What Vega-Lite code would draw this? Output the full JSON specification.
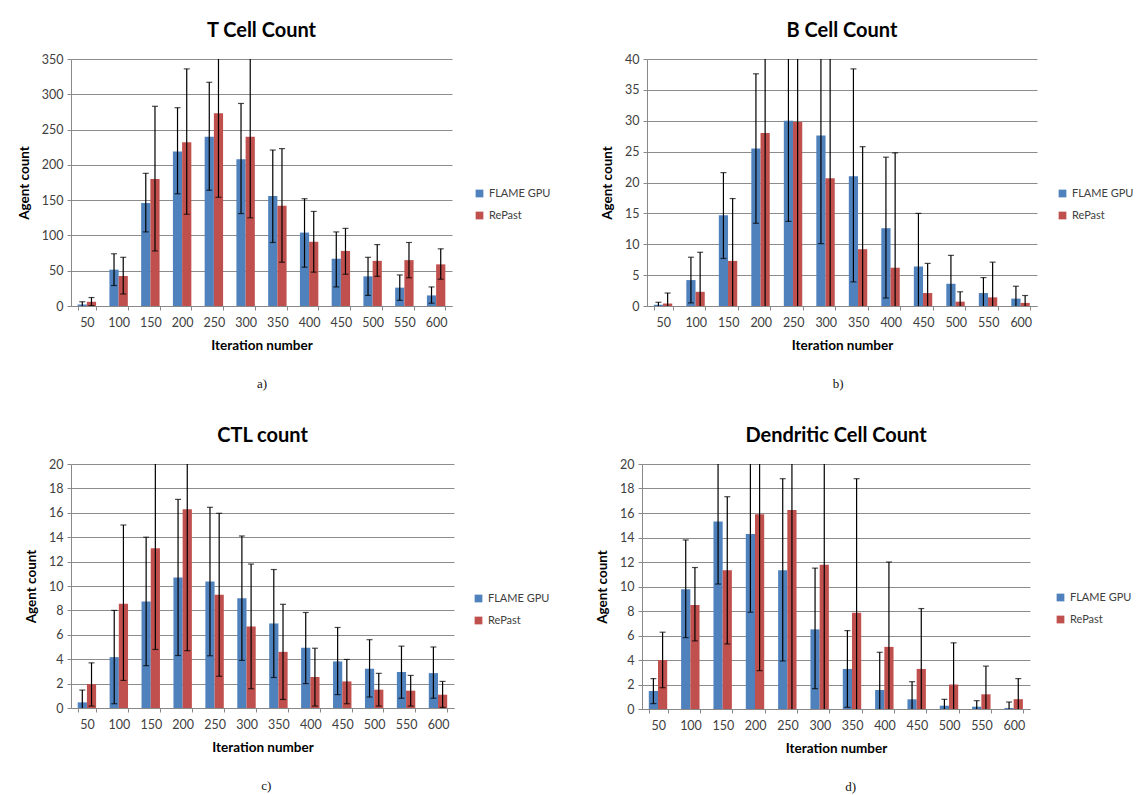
{
  "$schema": "https://vega.github.io/schema/vega-lite/v6.json",
  "background": "white",
  "padding": {"left": 17, "top": 21, "right": 5, "bottom": 0},
  "spacing": 35,
  "datasets": {
    "tcell": [
      {"iter": 50, "series": "FLAME GPU", "value": 2, "lo": -2, "hi": 6},
      {"iter": 50, "series": "RePast", "value": 6, "lo": 0.5, "hi": 12},
      {"iter": 100, "series": "FLAME GPU", "value": 51.5, "lo": 29, "hi": 74},
      {"iter": 100, "series": "RePast", "value": 42.5, "lo": 17, "hi": 69},
      {"iter": 150, "series": "FLAME GPU", "value": 146, "lo": 105, "hi": 188},
      {"iter": 150, "series": "RePast", "value": 180, "lo": 78, "hi": 283},
      {"iter": 200, "series": "FLAME GPU", "value": 219, "lo": 159, "hi": 281},
      {"iter": 200, "series": "RePast", "value": 232, "lo": 130, "hi": 336},
      {"iter": 250, "series": "FLAME GPU", "value": 240, "lo": 164, "hi": 317},
      {"iter": 250, "series": "RePast", "value": 273, "lo": 154, "hi": 392},
      {"iter": 300, "series": "FLAME GPU", "value": 208, "lo": 131, "hi": 287},
      {"iter": 300, "series": "RePast", "value": 240, "lo": 125, "hi": 355},
      {"iter": 350, "series": "FLAME GPU", "value": 156, "lo": 90, "hi": 221},
      {"iter": 350, "series": "RePast", "value": 142, "lo": 62, "hi": 223},
      {"iter": 400, "series": "FLAME GPU", "value": 104, "lo": 55, "hi": 152},
      {"iter": 400, "series": "RePast", "value": 91, "lo": 48, "hi": 134},
      {"iter": 450, "series": "FLAME GPU", "value": 67, "lo": 27, "hi": 105},
      {"iter": 450, "series": "RePast", "value": 78, "lo": 45, "hi": 110},
      {"iter": 500, "series": "FLAME GPU", "value": 42, "lo": 15, "hi": 69},
      {"iter": 500, "series": "RePast", "value": 64, "lo": 42, "hi": 87},
      {"iter": 550, "series": "FLAME GPU", "value": 26, "lo": 8, "hi": 44},
      {"iter": 550, "series": "RePast", "value": 65, "lo": 40, "hi": 90},
      {"iter": 600, "series": "FLAME GPU", "value": 15, "lo": 4, "hi": 27},
      {"iter": 600, "series": "RePast", "value": 59, "lo": 38, "hi": 81}
    ],
    "bcell": [
      {"iter": 50, "series": "FLAME GPU", "value": 0.2, "lo": -0.2, "hi": 0.6},
      {"iter": 50, "series": "RePast", "value": 0.4, "lo": -1.3, "hi": 2.1},
      {"iter": 100, "series": "FLAME GPU", "value": 4.2, "lo": 0.5, "hi": 7.9},
      {"iter": 100, "series": "RePast", "value": 2.3, "lo": -4.2, "hi": 8.7},
      {"iter": 150, "series": "FLAME GPU", "value": 14.7, "lo": 7.7, "hi": 21.6},
      {"iter": 150, "series": "RePast", "value": 7.3, "lo": -2.8, "hi": 17.4},
      {"iter": 200, "series": "FLAME GPU", "value": 25.5, "lo": 13.4, "hi": 37.6},
      {"iter": 200, "series": "RePast", "value": 28, "lo": -2, "hi": 58},
      {"iter": 250, "series": "FLAME GPU", "value": 30, "lo": 13.7, "hi": 46.3},
      {"iter": 250, "series": "RePast", "value": 29.8, "lo": -1, "hi": 60},
      {"iter": 300, "series": "FLAME GPU", "value": 27.6, "lo": 10.1, "hi": 45.1},
      {"iter": 300, "series": "RePast", "value": 20.7, "lo": -1, "hi": 42},
      {"iter": 350, "series": "FLAME GPU", "value": 21, "lo": 3.9, "hi": 38.4},
      {"iter": 350, "series": "RePast", "value": 9.2, "lo": -7.4, "hi": 25.8},
      {"iter": 400, "series": "FLAME GPU", "value": 12.6, "lo": 1.3, "hi": 24.1},
      {"iter": 400, "series": "RePast", "value": 6.2, "lo": -12.4, "hi": 24.8},
      {"iter": 450, "series": "FLAME GPU", "value": 6.4, "lo": -2.2, "hi": 15},
      {"iter": 450, "series": "RePast", "value": 2.1, "lo": -2.7, "hi": 6.9},
      {"iter": 500, "series": "FLAME GPU", "value": 3.6, "lo": -1, "hi": 8.2},
      {"iter": 500, "series": "RePast", "value": 0.7, "lo": -0.9, "hi": 2.3},
      {"iter": 550, "series": "FLAME GPU", "value": 2.1, "lo": -0.4, "hi": 4.6},
      {"iter": 550, "series": "RePast", "value": 1.4, "lo": -4.3, "hi": 7.1},
      {"iter": 600, "series": "FLAME GPU", "value": 1.2, "lo": -0.8, "hi": 3.2},
      {"iter": 600, "series": "RePast", "value": 0.5, "lo": -0.7, "hi": 1.7}
    ],
    "ctl": [
      {"iter": 50, "series": "FLAME GPU", "value": 0.46, "lo": -0.5, "hi": 1.47},
      {"iter": 50, "series": "RePast", "value": 1.96, "lo": 0.16, "hi": 3.7},
      {"iter": 100, "series": "FLAME GPU", "value": 4.17, "lo": 0.35, "hi": 8.0},
      {"iter": 100, "series": "RePast", "value": 8.54, "lo": 2.26, "hi": 15},
      {"iter": 150, "series": "FLAME GPU", "value": 8.73, "lo": 3.47, "hi": 14.0},
      {"iter": 150, "series": "RePast", "value": 13.1, "lo": 4.8, "hi": 21.4},
      {"iter": 200, "series": "FLAME GPU", "value": 10.7, "lo": 4.3, "hi": 17.1},
      {"iter": 200, "series": "RePast", "value": 16.3, "lo": 4.7, "hi": 27.9},
      {"iter": 250, "series": "FLAME GPU", "value": 10.37, "lo": 4.28, "hi": 16.45},
      {"iter": 250, "series": "RePast", "value": 9.28, "lo": 2.6, "hi": 15.96},
      {"iter": 300, "series": "FLAME GPU", "value": 9.0, "lo": 3.9, "hi": 14.1},
      {"iter": 300, "series": "RePast", "value": 6.68, "lo": 1.58, "hi": 11.8},
      {"iter": 350, "series": "FLAME GPU", "value": 6.93, "lo": 2.5, "hi": 11.35},
      {"iter": 350, "series": "RePast", "value": 4.6, "lo": 0.7, "hi": 8.5},
      {"iter": 400, "series": "FLAME GPU", "value": 4.94, "lo": 2.0, "hi": 7.83},
      {"iter": 400, "series": "RePast", "value": 2.54, "lo": 0.16, "hi": 4.9},
      {"iter": 450, "series": "FLAME GPU", "value": 3.82, "lo": 1.1, "hi": 6.6},
      {"iter": 450, "series": "RePast", "value": 2.18, "lo": 0.35, "hi": 3.98},
      {"iter": 500, "series": "FLAME GPU", "value": 3.22, "lo": 0.9, "hi": 5.6},
      {"iter": 500, "series": "RePast", "value": 1.5, "lo": 0.16, "hi": 2.84},
      {"iter": 550, "series": "FLAME GPU", "value": 2.95, "lo": 0.8, "hi": 5.07},
      {"iter": 550, "series": "RePast", "value": 1.42, "lo": 0.16, "hi": 2.67},
      {"iter": 600, "series": "FLAME GPU", "value": 2.86, "lo": 0.8, "hi": 5.0},
      {"iter": 600, "series": "RePast", "value": 1.09, "lo": 0.05, "hi": 2.18}
    ],
    "dc": [
      {"iter": 50, "series": "FLAME GPU", "value": 1.47, "lo": 0.44, "hi": 2.48},
      {"iter": 50, "series": "RePast", "value": 4.0, "lo": 1.74, "hi": 6.27},
      {"iter": 100, "series": "FLAME GPU", "value": 9.78, "lo": 5.83, "hi": 13.8},
      {"iter": 100, "series": "RePast", "value": 8.5, "lo": 5.56, "hi": 11.55},
      {"iter": 150, "series": "FLAME GPU", "value": 15.3, "lo": 10.2, "hi": 20.4},
      {"iter": 150, "series": "RePast", "value": 11.33, "lo": 5.31, "hi": 17.33},
      {"iter": 200, "series": "FLAME GPU", "value": 14.28, "lo": 7.9, "hi": 20.7},
      {"iter": 200, "series": "RePast", "value": 15.9, "lo": 3.13, "hi": 28.7},
      {"iter": 250, "series": "FLAME GPU", "value": 11.33, "lo": 3.92, "hi": 18.8},
      {"iter": 250, "series": "RePast", "value": 16.24, "lo": -0.5, "hi": 33},
      {"iter": 300, "series": "FLAME GPU", "value": 6.5, "lo": 1.66, "hi": 11.5},
      {"iter": 300, "series": "RePast", "value": 11.77, "lo": -0.5, "hi": 24},
      {"iter": 350, "series": "FLAME GPU", "value": 3.27, "lo": 0.14, "hi": 6.4},
      {"iter": 350, "series": "RePast", "value": 7.85, "lo": -3, "hi": 18.8},
      {"iter": 400, "series": "FLAME GPU", "value": 1.55, "lo": -1.5, "hi": 4.63},
      {"iter": 400, "series": "RePast", "value": 5.07, "lo": -1.9, "hi": 12.0},
      {"iter": 450, "series": "FLAME GPU", "value": 0.79, "lo": -0.65, "hi": 2.23},
      {"iter": 450, "series": "RePast", "value": 3.27, "lo": -1.6, "hi": 8.2},
      {"iter": 500, "series": "FLAME GPU", "value": 0.27, "lo": -0.25, "hi": 0.79},
      {"iter": 500, "series": "RePast", "value": 2.0, "lo": -1.4, "hi": 5.4},
      {"iter": 550, "series": "FLAME GPU", "value": 0.19, "lo": -0.3, "hi": 0.68},
      {"iter": 550, "series": "RePast", "value": 1.2, "lo": -1.1, "hi": 3.5},
      {"iter": 600, "series": "FLAME GPU", "value": 0.08, "lo": -0.4, "hi": 0.57},
      {"iter": 600, "series": "RePast", "value": 0.8, "lo": -0.9, "hi": 2.48}
    ]
  },
  "vconcat": [
    {
      "spacing": 49,
      "hconcat": [
        {
          "title": {"text": "a)", "orient": "bottom", "dx": -22, "offset": 26, "font": "Liberation Serif", "fontWeight": "normal", "fontSize": 13, "color": "#111111"},
          "resolve": {"legend": {"color": "independent"}},
          "vconcat": [
            {
              "title": {"text": "T Cell Count"},
              "width": 381, "height": 247,
              "data": {"name": "tcell"},
              "encoding": {
                "x": {"field": "iter", "type": "ordinal", "title": "Iteration number", "scale": {"paddingInner": 0.42, "paddingOuter": 0.21}},
                "xOffset": {"field": "series", "type": "nominal", "sort": ["FLAME GPU", "RePast"]}
              },
              "layer": [
                {"mark": {"type": "bar"}, "encoding": {
                  "y": {"field": "value", "type": "quantitative", "title": "Agent count", "scale": {"domain": [0, 350], "nice": false}, "axis": {"values": [0, 50, 100, 150, 200, 250, 300, 350]}},
                  "color": {"field": "series", "type": "nominal", "scale": {"domain": ["FLAME GPU", "RePast"], "range": ["#4F81BD", "#C0504D"]}, "legend": {"orient": "none", "legendX": 403, "legendY": 129}}}},
                {"mark": {"type": "rule", "clip": true, "color": "black", "strokeWidth": 1.2}, "encoding": {"y": {"field": "lo", "type": "quantitative", "title": "Agent count", "axis": {"values": [0, 50, 100, 150, 200, 250, 300, 350]}}, "y2": {"field": "hi"}}},
                {"mark": {"type": "tick", "clip": true, "color": "black", "size": 6, "thickness": 1.2}, "encoding": {"y": {"field": "hi", "type": "quantitative", "title": "Agent count", "axis": {"values": [0, 50, 100, 150, 200, 250, 300, 350]}}}},
                {"mark": {"type": "tick", "clip": true, "color": "black", "size": 6, "thickness": 1.2}, "encoding": {"y": {"field": "lo", "type": "quantitative", "title": "Agent count", "axis": {"values": [0, 50, 100, 150, 200, 250, 300, 350]}}}}
              ]
            }
          ]
        },
        {
          "title": {"text": "b)", "orient": "bottom", "dx": -29, "offset": 26, "font": "Liberation Serif", "fontWeight": "normal", "fontSize": 13, "color": "#111111"},
          "resolve": {"legend": {"color": "independent"}},
          "vconcat": [
            {
              "title": {"text": "B Cell Count"},
              "width": 390, "height": 247,
              "data": {"name": "bcell"},
              "encoding": {
                "x": {"field": "iter", "type": "ordinal", "title": "Iteration number", "scale": {"paddingInner": 0.42, "paddingOuter": 0.21}},
                "xOffset": {"field": "series", "type": "nominal", "sort": ["FLAME GPU", "RePast"]}
              },
              "layer": [
                {"mark": {"type": "bar"}, "encoding": {
                  "y": {"field": "value", "type": "quantitative", "title": "Agent count", "scale": {"domain": [0, 40], "nice": false}, "axis": {"values": [0, 5, 10, 15, 20, 25, 30, 35, 40]}},
                  "color": {"field": "series", "type": "nominal", "scale": {"domain": ["FLAME GPU", "RePast"], "range": ["#4F81BD", "#C0504D"]}, "legend": {"orient": "none", "legendX": 410, "legendY": 129}}}},
                {"mark": {"type": "rule", "clip": true, "color": "black", "strokeWidth": 1.2}, "encoding": {"y": {"field": "lo", "type": "quantitative", "title": "Agent count", "axis": {"values": [0, 5, 10, 15, 20, 25, 30, 35, 40]}}, "y2": {"field": "hi"}}},
                {"mark": {"type": "tick", "clip": true, "color": "black", "size": 6, "thickness": 1.2}, "encoding": {"y": {"field": "hi", "type": "quantitative", "title": "Agent count", "axis": {"values": [0, 5, 10, 15, 20, 25, 30, 35, 40]}}}},
                {"mark": {"type": "tick", "clip": true, "color": "black", "size": 6, "thickness": 1.2}, "encoding": {"y": {"field": "lo", "type": "quantitative", "title": "Agent count", "axis": {"values": [0, 5, 10, 15, 20, 25, 30, 35, 40]}}}}
              ]
            }
          ]
        }
      ]
    },
    {
      "spacing": 45,
      "hconcat": [
        {
          "title": {"text": "c)", "orient": "bottom", "dx": -21, "offset": 26, "font": "Liberation Serif", "fontWeight": "normal", "fontSize": 13, "color": "#111111"},
          "resolve": {"legend": {"color": "independent"}},
          "vconcat": [
            {
              "title": {"text": "CTL count"},
              "width": 383, "height": 244,
              "data": {"name": "ctl"},
              "encoding": {
                "x": {"field": "iter", "type": "ordinal", "title": "Iteration number", "scale": {"paddingInner": 0.42, "paddingOuter": 0.21}},
                "xOffset": {"field": "series", "type": "nominal", "sort": ["FLAME GPU", "RePast"]}
              },
              "layer": [
                {"mark": {"type": "bar"}, "encoding": {
                  "y": {"field": "value", "type": "quantitative", "title": "Agent count", "scale": {"domain": [0, 20], "nice": false}, "axis": {"values": [0, 2, 4, 6, 8, 10, 12, 14, 16, 18, 20]}},
                  "color": {"field": "series", "type": "nominal", "scale": {"domain": ["FLAME GPU", "RePast"], "range": ["#4F81BD", "#C0504D"]}, "legend": {"orient": "none", "legendX": 402, "legendY": 129}}}},
                {"mark": {"type": "rule", "clip": true, "color": "black", "strokeWidth": 1.2}, "encoding": {"y": {"field": "lo", "type": "quantitative", "title": "Agent count", "axis": {"values": [0, 2, 4, 6, 8, 10, 12, 14, 16, 18, 20]}}, "y2": {"field": "hi"}}},
                {"mark": {"type": "tick", "clip": true, "color": "black", "size": 6, "thickness": 1.2}, "encoding": {"y": {"field": "hi", "type": "quantitative", "title": "Agent count", "axis": {"values": [0, 2, 4, 6, 8, 10, 12, 14, 16, 18, 20]}}}},
                {"mark": {"type": "tick", "clip": true, "color": "black", "size": 6, "thickness": 1.2}, "encoding": {"y": {"field": "lo", "type": "quantitative", "title": "Agent count", "axis": {"values": [0, 2, 4, 6, 8, 10, 12, 14, 16, 18, 20]}}}}
              ]
            }
          ]
        },
        {
          "title": {"text": "d)", "orient": "bottom", "dx": -13, "offset": 26, "font": "Liberation Serif", "fontWeight": "normal", "fontSize": 13, "color": "#111111"},
          "resolve": {"legend": {"color": "independent"}},
          "vconcat": [
            {
              "title": {"text": "Dendritic Cell Count"},
              "width": 388, "height": 245,
              "data": {"name": "dc"},
              "encoding": {
                "x": {"field": "iter", "type": "ordinal", "title": "Iteration number", "scale": {"paddingInner": 0.42, "paddingOuter": 0.21}},
                "xOffset": {"field": "series", "type": "nominal", "sort": ["FLAME GPU", "RePast"]}
              },
              "layer": [
                {"mark": {"type": "bar"}, "encoding": {
                  "y": {"field": "value", "type": "quantitative", "title": "Agent count", "scale": {"domain": [0, 20], "nice": false}, "axis": {"values": [0, 2, 4, 6, 8, 10, 12, 14, 16, 18, 20]}},
                  "color": {"field": "series", "type": "nominal", "scale": {"domain": ["FLAME GPU", "RePast"], "range": ["#4F81BD", "#C0504D"]}, "legend": {"orient": "none", "legendX": 413, "legendY": 128}}}},
                {"mark": {"type": "rule", "clip": true, "color": "black", "strokeWidth": 1.2}, "encoding": {"y": {"field": "lo", "type": "quantitative", "title": "Agent count", "axis": {"values": [0, 2, 4, 6, 8, 10, 12, 14, 16, 18, 20]}}, "y2": {"field": "hi"}}},
                {"mark": {"type": "tick", "clip": true, "color": "black", "size": 6, "thickness": 1.2}, "encoding": {"y": {"field": "hi", "type": "quantitative", "title": "Agent count", "axis": {"values": [0, 2, 4, 6, 8, 10, 12, 14, 16, 18, 20]}}}},
                {"mark": {"type": "tick", "clip": true, "color": "black", "size": 6, "thickness": 1.2}, "encoding": {"y": {"field": "lo", "type": "quantitative", "title": "Agent count", "axis": {"values": [0, 2, 4, 6, 8, 10, 12, 14, 16, 18, 20]}}}}
              ]
            }
          ]
        }
      ]
    }
  ],
  "resolve": {"scale": {"x": "independent", "y": "independent", "color": "independent"}, "legend": {"color": "independent"}},
  "config": {
    "font": "Lato",
    "view": {"stroke": null},
    "title": {"fontSize": 20, "fontWeight": "bold", "color": "black", "offset": 12, "anchor": "middle"},
    "axis": {
      "labelFont": "Lato", "labelFontSize": 12.5, "labelColor": "#404040",
      "titleFont": "Lato", "titleFontSize": 13.5, "titleFontWeight": "bold", "titleColor": "black",
      "domainColor": "#888888", "tickColor": "#888888", "gridColor": "#8c8c8c", "tickSize": 4
    },
    "axisX": {"labelAngle": 0, "tickBand": "extent", "grid": false, "labelPadding": 6, "titlePadding": 10},
    "axisY": {"grid": true, "domain": true, "labelPadding": 4, "titlePadding": 10},
    "legend": {"title": null, "symbolType": "square", "symbolSize": 60, "labelFontSize": 11, "labelColor": "#404040", "rowPadding": 10, "labelFont": "Lato"}
  }
}
